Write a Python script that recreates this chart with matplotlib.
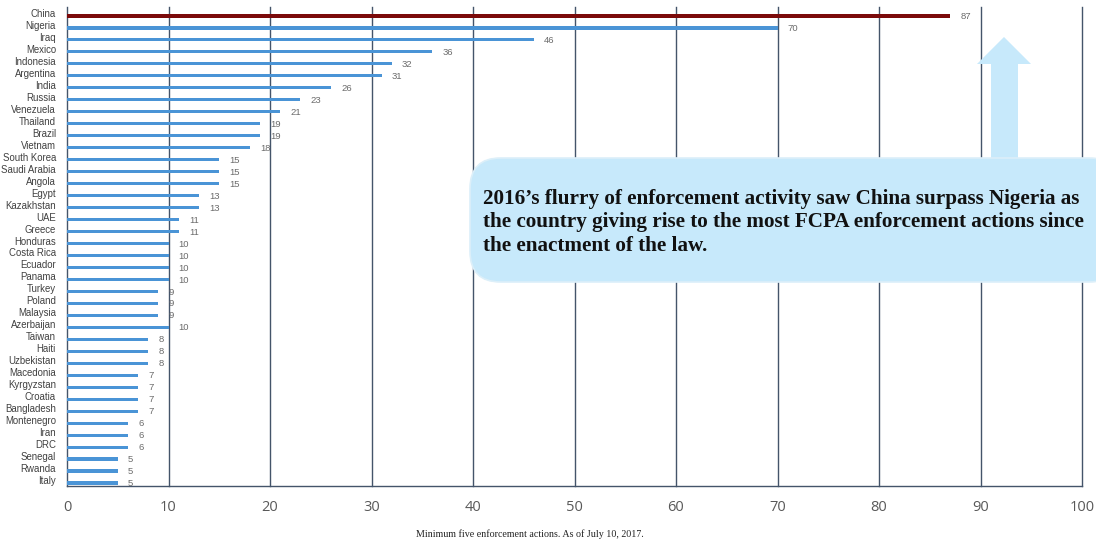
#!/usr/bin/env python3
"""FCPA enforcement actions by country (min. five actions)."""

import matplotlib

matplotlib.use("Agg")
import matplotlib.pyplot as plt
from matplotlib.patches import FancyBboxPatch, Polygon

COUNTRIES = [
    "China", "Nigeria", "Iraq", "Mexico", "Indonesia", "Argentina", "India",
    "Russia", "Venezuela", "Thailand", "Brazil", "Vietnam", "South Korea",
    "Saudi Arabia", "Angola", "Egypt", "Kazakhstan", "UAE", "Greece",
    "Honduras", "Costa Rica", "Ecuador", "Panama", "Turkey", "Poland",
    "Malaysia", "Azerbaijan", "Taiwan", "Haiti", "Uzbekistan", "Macedonia",
    "Kyrgyzstan", "Croatia", "Bangladesh", "Montenegro", "Iran", "DRC",
    "Senegal", "Rwanda", "Italy",
]
ACTIONS = [
    87, 70, 46, 36, 32, 31, 26, 23, 21, 19, 19, 18, 15, 15, 15, 13, 13, 11,
    11, 10, 10, 10, 10, 9, 9, 9, 10, 8, 8, 8, 7, 7, 7, 7, 6, 6, 6, 5, 5, 5,
]
X_TICKS = list(range(0, 101, 10))

CALLOUT = ("2016\u2019s flurry of enforcement activity saw China surpass Nigeria as\n"
           "the country giving rise to the most FCPA enforcement actions since\n"
           "the enactment of the law.")
NOTE = "Minimum five enforcement actions. As of July 10, 2017."

BLUE = "#4a94d6"
RED = "#7b0a0a"
GRID = "#44546a"
BOX = "#c7e9fb"

W, H = 1096, 542
fig = plt.figure(figsize=(W / 100, H / 100), dpi=100)
ax = fig.add_axes([67 / W, 1 - 486 / H, (1082 - 67) / W, (486 - 7) / H])

ys = list(range(len(COUNTRIES)))
colors = [RED if i == 0 else BLUE for i in ys]
heights = [0.32 if i == 0 else 0.26 for i in ys]
ax.barh([y + 0.25 for y in ys], ACTIONS, height=heights, color=colors, zorder=3)
for y, v in zip(ys, ACTIONS):
    ax.text(v + 1.0, y + 0.3, str(v), va="center", ha="left", fontsize=6.8,
            color="#6b6b6b", family="Liberation Sans", zorder=4)

ax.set_xlim(0, 100)
ax.set_ylim(len(COUNTRIES) - 0.5, -0.5)
ax.set_yticks(ys)
ax.set_yticklabels(COUNTRIES, fontsize=6.9, color="#404040", family="Liberation Sans")
ax.tick_params(axis="y", length=0, pad=8)
ax.set_xticks(X_TICKS)
ax.set_xticklabels([str(t) for t in X_TICKS], fontsize=10.5, color="#595959",
                   family="Open Sans")
ax.tick_params(axis="x", length=0, pad=10)
for t in X_TICKS:
    ax.axvline(t, color=GRID, lw=1.0, zorder=2, clip_on=False)
for side in ["top", "right", "left"]:
    ax.spines[side].set_visible(False)
ax.spines["bottom"].set_color(GRID)
ax.spines["bottom"].set_linewidth(1.0)


def px(x, y):
    return (x / W, 1 - y / H)


arrow = [px(1004, 37), px(1031, 64), px(1018, 64), px(1018, 160), px(991, 160),
         px(991, 64), px(977, 64)]
fig.patches.append(Polygon(arrow, closed=True, transform=fig.transFigure,
                           facecolor=BOX, edgecolor="none", zorder=1))

x0, y0 = px(470, 282)
x1, y1 = px(1120, 158)
box = FancyBboxPatch((x0, y0), x1 - x0, y1 - y0,
                     boxstyle="round,pad=0,rounding_size=0.028",
                     transform=fig.transFigure, facecolor=BOX,
                     edgecolor="#dceff9", lw=1.2, zorder=5,
                     mutation_aspect=W / H)
fig.patches.append(box)
fig.text(483 / W, 1 - 189 / H, CALLOUT, ha="left", va="top", fontsize=15.2,
         fontweight="bold", family="Liberation Serif", linespacing=1.22,
         color="#111111", zorder=6)

fig.text(530 / W, 1 - 534 / H, NOTE, ha="center", va="center", fontsize=7.2,
         family="Liberation Serif", color="#222222")

fig.savefig("out.png", dpi=100)
